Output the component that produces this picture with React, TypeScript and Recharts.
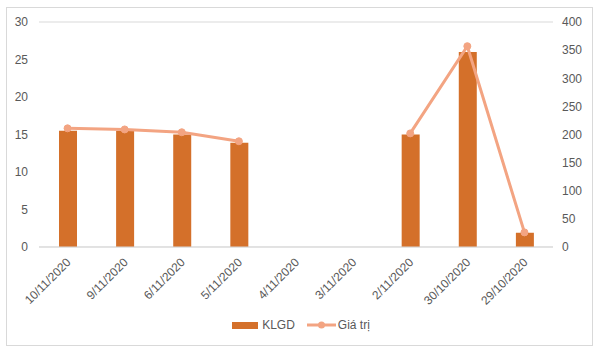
import React from 'react';
import { ComposedChart, Bar, Line, XAxis, YAxis, CartesianGrid } from 'recharts';

const dates = ['10/11/2020', '9/11/2020', '6/11/2020', '5/11/2020', '4/11/2020', '3/11/2020', '2/11/2020', '30/10/2020', '29/10/2020'];
const klgd = [15.5, 15.5, 15, 13.9, null, null, 15, 26, 1.9];
const giaTri = [211, 209, 204, 188, null, null, 202, 357, 26];
const leftTicks = [0, 5, 10, 15, 20, 25, 30];
const rightTicks = [0, 50, 100, 150, 200, 250, 300, 350, 400];

const BAR_COLOR = '#D4702A';
const LINE_COLOR = '#F3A482';
const TEXT_COLOR = '#595959';
const FONT = '"Liberation Sans", Arial, sans-serif';

const data = dates.map((d, i) => ({ date: d, KLGD: klgd[i], value: giaTri[i] }));

const DateTick = (props: any) => {
  const { x, y, payload } = props;
  return (
    <text
      x={x + 4}
      y={y + 8}
      transform={`rotate(-45, ${x + 4}, ${y + 8})`}
      textAnchor="end"
      fill={TEXT_COLOR}
      fontSize={12}
      fontFamily={FONT}
    >
      {payload.value}
    </text>
  );
};

// legend drawn outside recharts so it doesn't eat plot space
const LegendBox = () => (
  <div style={{ position: 'absolute', top: 318, left: 0, width: 602, display: 'flex', justifyContent: 'center', alignItems: 'center', fontFamily: FONT, fontSize: 12, color: TEXT_COLOR }}>
    <span style={{ display: 'inline-block', width: 26, height: 7, background: BAR_COLOR, marginRight: 4 }} />
    <span style={{ marginRight: 12 }}>KLGD</span>
    <svg width={29} height={10} style={{ marginRight: 2 }}>
      <line x1={0} y1={5} x2={29} y2={5} stroke={LINE_COLOR} strokeWidth={3} />
      <circle cx={14.5} cy={5} r={3.5} fill={LINE_COLOR} />
    </svg>
    <span>Giá trị</span>
  </div>
);

export default function App() {
  return (
    <div style={{ position: 'absolute', left: 0, top: 0, width: 602, height: 360, background: '#fff' }}>
      <div style={{ position: 'absolute', left: 6, top: 7, width: 585, height: 337, border: '1px solid #D9D9D9' }} />
      <ComposedChart
        width={602}
        height={360}
        data={data}
        margin={{ top: 22, right: 0, left: 0, bottom: 0 }}
        style={{ position: 'absolute', left: 0, top: 0 }}
      >
        <CartesianGrid vertical={false} stroke="#D9D9D9" />
        <XAxis
          dataKey="date"
          axisLine={{ stroke: '#D9D9D9' }}
          tickLine={false}
          interval={0}
          height={113}
          tick={<DateTick />}
        />
        <YAxis
          yAxisId="left"
          domain={[0, 30]}
          ticks={leftTicks}
          width={39}
          axisLine={false}
          tickLine={false}
          tickMargin={5}
          tick={{ fill: TEXT_COLOR, fontSize: 12, fontFamily: FONT }}
        />
        <YAxis
          yAxisId="right"
          orientation="right"
          domain={[0, 400]}
          ticks={rightTicks}
          width={49}
          axisLine={false}
          tickLine={false}
          tickMargin={3}
          tick={{ fill: TEXT_COLOR, fontSize: 12, fontFamily: FONT, textAnchor: 'start' }}
        />
        <Bar yAxisId="left" dataKey="KLGD" fill={BAR_COLOR} barSize={18} isAnimationActive={false} />
        <Line
          yAxisId="right"
          dataKey="value"
          stroke={LINE_COLOR}
          strokeWidth={3}
          dot={{ r: 3.5, fill: LINE_COLOR, stroke: LINE_COLOR, strokeWidth: 1 }}
          connectNulls={false}
          isAnimationActive={false}
        />
      </ComposedChart>
      <LegendBox />
    </div>
  );
}
